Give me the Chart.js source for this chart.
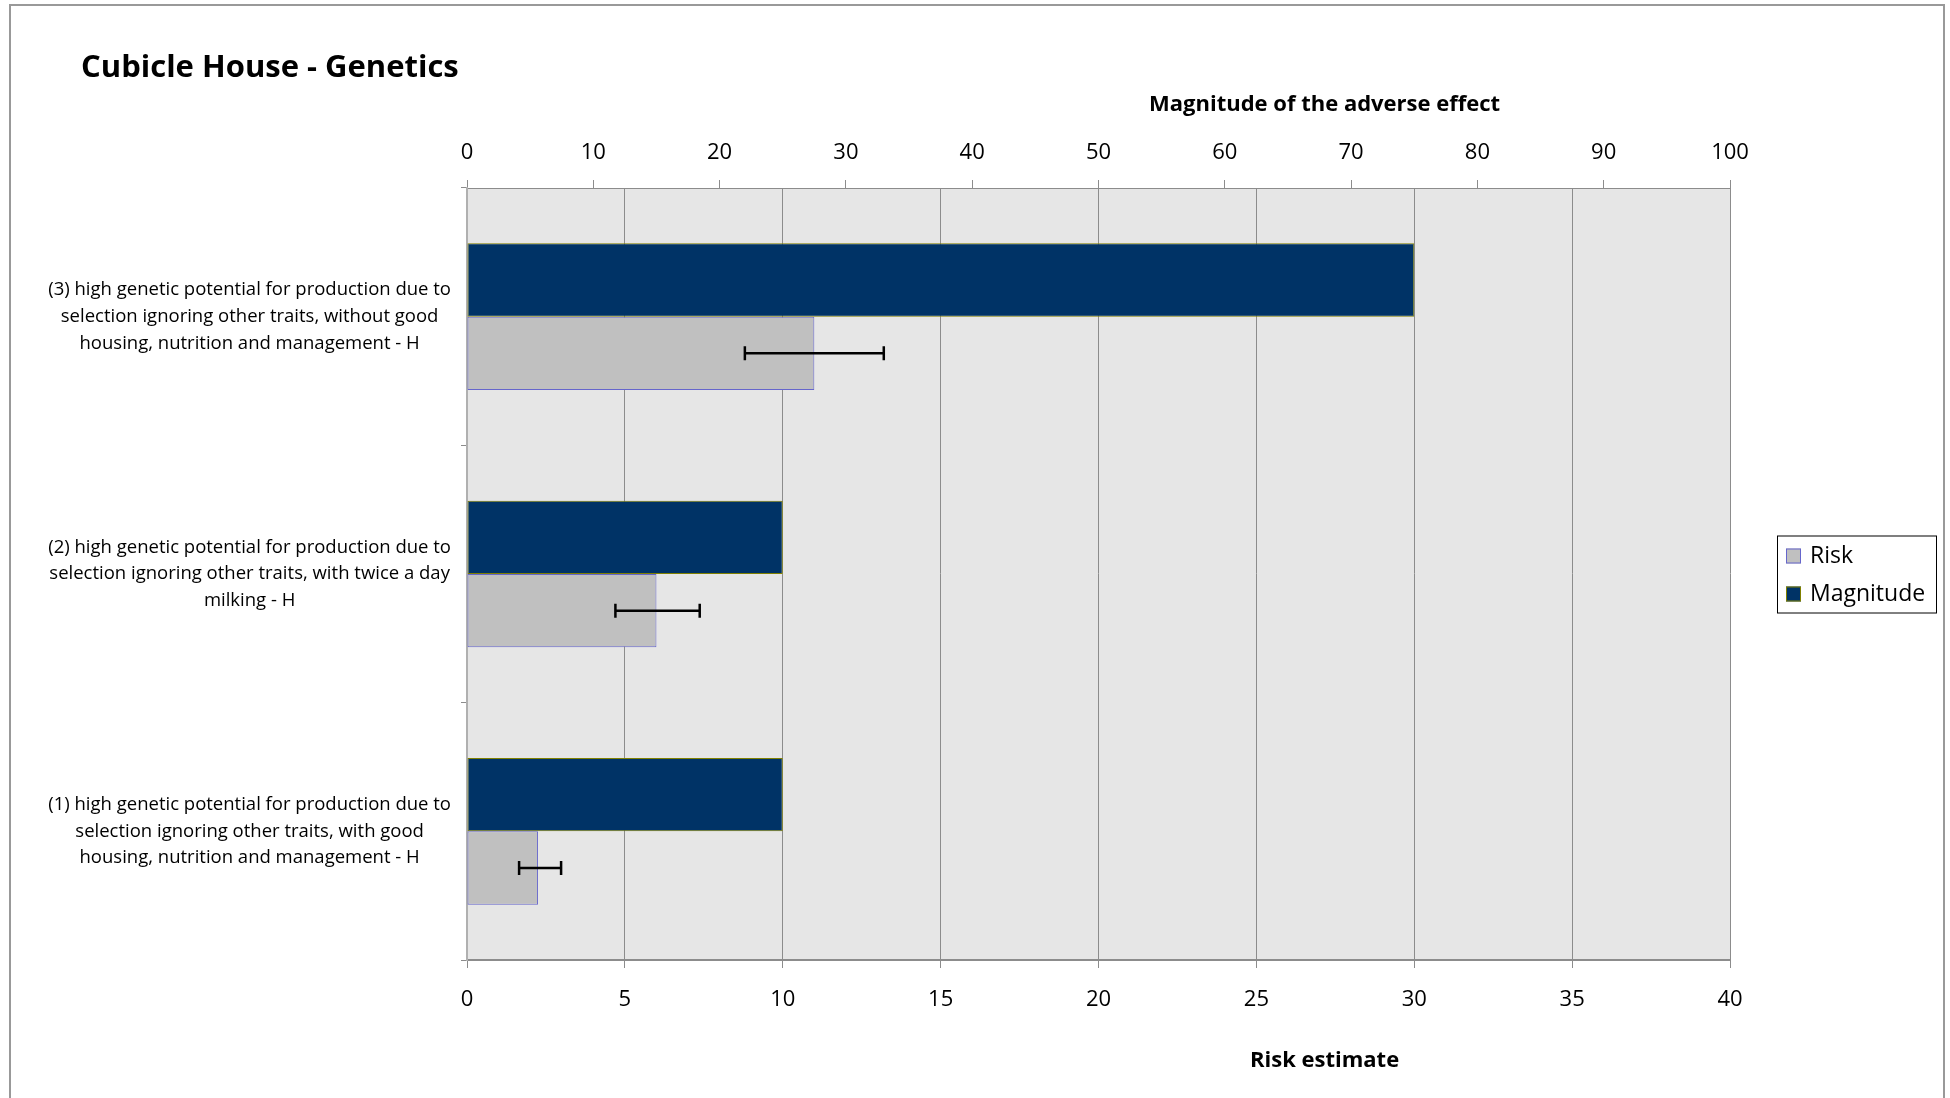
<!DOCTYPE html>
<html>
<head>
<meta charset="utf-8">
<script src="https://cdn.jsdelivr.net/npm/chart.js@4.4.1/dist/chart.umd.min.js"></script>
<style>
  body { margin: 0; background: #fff; overflow: hidden; }
  #wrap { position: relative; width: 1950px; height: 1098px; }
  #frame { position: absolute; left: 9px; top: 4px; width: 1932px; height: 1200px;
           border: 2px solid #999; pointer-events: none; }
</style>
</head>
<body>
<div id="wrap">
  <canvas id="riskChart"></canvas>
  <div id="frame"></div>
</div>
<script>
const categories = [
  ['(3) high genetic potential for production due to', 'selection ignoring other traits, without good', 'housing, nutrition and management - H'],
  ['(2) high genetic potential for production due to', 'selection ignoring other traits, with twice a day', 'milking - H'],
  ['(1) high genetic potential for production due to', 'selection ignoring other traits, with good', 'housing, nutrition and management - H']
];
const magnitude = [75, 25, 25];
const risk = [11, 6, 2.25];
const riskLow = [8.8, 4.7, 1.65];
const riskHigh = [13.2, 7.37, 2.98];
const magnitudeTicks = [0, 10, 20, 30, 40, 50, 60, 70, 80, 90, 100];
const riskTicks = [0, 5, 10, 15, 20, 25, 30, 35, 40];

const FONT = "'Open Sans', sans-serif";
const GRID = '#8c8c8c';

// plot background, error bars, titles and the boxed legend
const extras = {
  id: 'extras',
  beforeDraw(chart) {
    const { ctx, chartArea: a } = chart;
    ctx.save();
    ctx.fillStyle = '#e6e6e6';
    ctx.fillRect(a.left, a.top, a.right - a.left, a.bottom - a.top);
    ctx.restore();
  },
  afterDatasetsDraw(chart) {
    const ctx = chart.ctx;
    const meta = chart.getDatasetMeta(1);
    const xs = chart.scales.x;
    ctx.save();
    ctx.strokeStyle = '#000';
    ctx.lineWidth = 2.5;
    meta.data.forEach((bar, i) => {
      const x1 = xs.getPixelForValue(riskLow[i]);
      const x2 = xs.getPixelForValue(riskHigh[i]);
      const y = bar.y;
      ctx.beginPath();
      ctx.moveTo(x1, y); ctx.lineTo(x2, y);
      ctx.moveTo(x1, y - 7); ctx.lineTo(x1, y + 7);
      ctx.moveTo(x2, y - 7); ctx.lineTo(x2, y + 7);
      ctx.stroke();
    });
    ctx.restore();
  },
  afterDraw(chart) {
    const { ctx, chartArea: a } = chart;
    ctx.save();
    ctx.fillStyle = '#000';
    ctx.textBaseline = 'middle';

    ctx.font = 'bold 31px ' + FONT;
    ctx.textAlign = 'left';
    ctx.fillText('Cubicle House - Genetics', 81, 68.5);

    ctx.font = 'bold 22px ' + FONT;
    ctx.textAlign = 'center';
    const tx = a.left + (a.right - a.left) * 0.679;
    ctx.fillText('Magnitude of the adverse effect', tx, 104.5);
    ctx.fillText('Risk estimate', tx, 1060.5);

    // legend
    const lx = a.right + 47;
    const ly = (a.top + a.bottom) / 2 - 38.5;
    ctx.strokeStyle = '#000';
    ctx.lineWidth = 1;
    ctx.strokeRect(lx + 0.5, ly + 0.5, 159, 77);
    const items = [
      { label: 'Risk', fill: '#c0c0c0', stroke: '#6666cc' },
      { label: 'Magnitude', fill: '#003366', stroke: '#808000' }
    ];
    ctx.font = '23px ' + FONT;
    ctx.textAlign = 'left';
    items.forEach((it, i) => {
      const cy = ly + 20 + i * 38;
      ctx.fillStyle = it.fill;
      ctx.fillRect(lx + 9, cy - 7, 15, 15);
      ctx.strokeStyle = it.stroke;
      ctx.strokeRect(lx + 9.5, cy - 6.5, 14, 14);
      ctx.fillStyle = '#000';
      ctx.fillText(it.label, lx + 33, cy + 1);
    });
    ctx.restore();
  }
};

const ctx = document.getElementById('riskChart').getContext('2d');
new Chart(ctx, {
  type: 'bar',
  data: {
    labels: categories,
    datasets: [
      {
        label: 'Magnitude',
        data: magnitude,
        xAxisID: 'x2',
        backgroundColor: '#003366',
        borderColor: '#808000',
        borderWidth: 1,
        borderSkipped: false
      },
      {
        label: 'Risk',
        data: risk,
        xAxisID: 'x',
        backgroundColor: '#c0c0c0',
        borderColor: '#6666cc',
        borderWidth: 1,
        borderSkipped: false
      }
    ]
  },
  options: {
    indexAxis: 'y',
    responsive: true,
    maintainAspectRatio: false,
    animation: false,
    categoryPercentage: 0.57,
    barPercentage: 1,
    layout: { padding: { left: 20, right: 220, top: 0, bottom: 0 } },
    plugins: {
      legend: { display: false },
      tooltip: { enabled: false }
    },
    scales: {
      x2: {
        position: 'top',
        min: 0,
        max: 100,
        afterBuildTicks: (s) => { s.ticks = magnitudeTicks.map(v => ({ value: v })); },
        afterFit: (s) => { s.height = 188; },
        grid: { drawOnChartArea: false, drawTicks: true, tickLength: 8, color: GRID },
        border: { display: true, color: GRID },
        ticks: { color: '#000', padding: 14.5, font: { family: FONT, size: 22 } }
      },
      x: {
        position: 'bottom',
        min: 0,
        max: 40,
        afterBuildTicks: (s) => { s.ticks = riskTicks.map(v => ({ value: v })); },
        afterFit: (s) => { s.height = 138; },
        grid: { color: GRID, tickLength: 8 },
        border: { display: true, color: GRID, width: 2 },
        ticks: { color: '#000', padding: 19, font: { family: FONT, size: 22 } }
      },
      y: {
        afterFit: (s) => { s.width = 447; },
        grid: { offset: true, drawOnChartArea: false, tickLength: 6, color: GRID },
        border: { display: true, color: '#b0b0b0', width: 2 },
        ticks: {
          color: '#000',
          padding: 10,
          crossAlign: 'center',
          font: { family: FONT, size: 18.5, lineHeight: '26.7px' }
        }
      }
    }
  },
  plugins: [extras]
});
</script>
</body>
</html>
